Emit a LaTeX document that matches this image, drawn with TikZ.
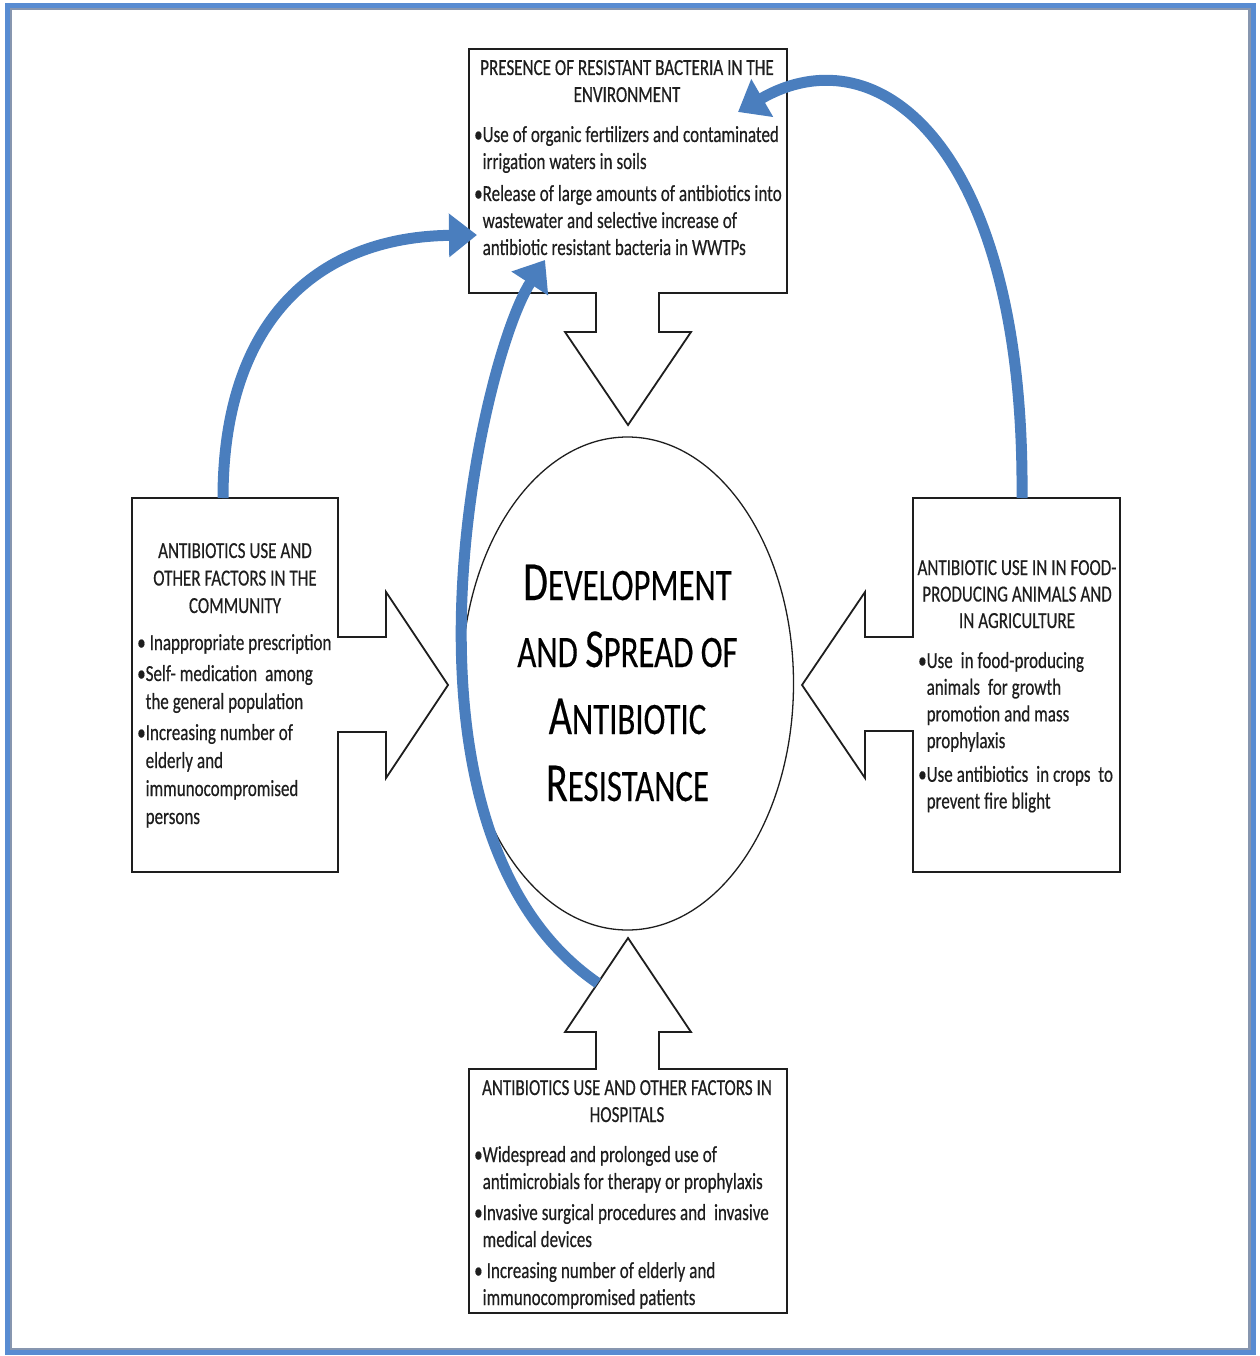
\documentclass[tikz,border=0pt]{standalone}
\usepackage{fontspec}
\setmainfont[FakeStretch=0.74,FakeBold=0.4]{Carlito}
\newfontfamily\centerfont[FakeStretch=0.73,FakeBold=0.3]{Carlito}
\usetikzlibrary{arrows.meta,shapes.geometric,calc}
\definecolor{arcblue}{RGB}{74,126,190}
\definecolor{frameblue}{RGB}{88,140,210}
\definecolor{frameshade}{RGB}{135,150,175}
\definecolor{ink}{RGB}{30,30,30}
\newcommand\capsc[2]{{\fontsize{55}{67}\selectfont #1}{\fontsize{45}{67}\selectfont #2}}
\newcommand\hg{\phantom{•}}
\newcommand\tf[2]{\fontsize{#1}{#2}\selectfont\fontdimen2\font=4pt\fontdimen3\font=0.5pt\fontdimen4\font=0.5pt\relax}
\begin{document}
\begin{tikzpicture}[x=1pt,y=-1pt,
  blockline/.style={draw=ink,line width=1.8pt,fill=white,line join=miter},
  boxarea/.style={inner sep=0pt,outer sep=0pt,draw=none,rectangle},
  titletext/.style={text width=330pt,align=flush center,anchor=base,inner sep=0pt,text=ink},
  bodytext/.style={text width=330pt,align=flush left,anchor=base west,inner sep=0pt,text=ink},
  arc/.style={draw=arcblue,line width=11pt,-{Triangle[width=42pt,length=28pt]}}]
\useasboundingbox (0,0) rectangle (1259,1356);
% frame
\draw[frameblue,line width=4.5pt] (7.5,5.5) rectangle (1253.5,1352.5);
\draw[frameshade,line width=2.5pt] (11,9) rectangle (1249.5,1349);
% outlines: boxes with block arrows
\draw[blockline] (469,49) -- (787,49) -- (787,293) -- (659,293) -- (659,332) -- (691,332) -- (628,425) -- (565,332) -- (596,332) -- (596,293) -- (469,293) -- cycle;
\draw[blockline] (132,498) -- (338,498) -- (338,637) -- (386,637) -- (386,592) -- (448,685) -- (386,778) -- (386,732) -- (338,732) -- (338,872) -- (132,872) -- cycle;
\draw[blockline] (913,498) -- (1120,498) -- (1120,872) -- (913,872) -- (913,731) -- (865,731) -- (865,778) -- (802,685) -- (865,592) -- (865,637) -- (913,637) -- cycle;
\draw[blockline] (469,1069) -- (596,1069) -- (596,1032) -- (565,1032) -- (628,938) -- (691,1032) -- (659,1032) -- (659,1069) -- (787,1069) -- (787,1313) -- (469,1313) -- cycle;
% named areas
\node[boxarea,minimum width=318pt,minimum height=244pt] (env) at (628,171) {};
\node[boxarea,minimum width=206pt,minimum height=374pt] (comm) at (235,685) {};
\node[boxarea,minimum width=207pt,minimum height=374pt] (agri) at (1016.5,685) {};
\node[boxarea,minimum width=318pt,minimum height=244pt] (hosp) at (628,1191) {};
\coordinate (hosptip) at (628,938);
\coordinate (hospbl) at (565,1032);
% central ellipse
\node[ellipse,draw=ink,line width=1.3pt,minimum width=332pt,minimum height=493pt,inner sep=0pt] (core) at (627.5,683.5) {};
\node[text width=330pt,align=flush center,anchor=base,inner sep=0pt,text=black,font=\centerfont\fontsize{45}{67}\selectfont] (coretext) at (627.5,600)
 {\capsc{D}{EVELOPMENT}\\\capsc{}{AND }\capsc{S}{PREAD OF}\\\capsc{A}{NTIBIOTIC}\\\capsc{R}{ESISTANCE}};
% top box texts
\node[titletext,font=\tf{23}{27}] (envT) at (627,75) {PRESENCE OF RESISTANT BACTERIA IN THE\\ENVIRONMENT};
\node[bodytext,font=\tf{23}{27}] (envB) at (474,142)
 {•Use of organic fertilizers and contaminated\\\hg irrigation waters in soils\\[5pt]•Release of large amounts of antibiotics into\\\hg wastewater and selective increase of\\\hg antibiotic resistant bacteria in WWTPs};
% left box texts
\node[titletext,font=\tf{23}{27.5}] (commT) at (235,558) {ANTIBIOTICS USE AND\\OTHER FACTORS IN THE\\COMMUNITY};
\node[bodytext,font=\tf{23}{28}] (commB) at (137,650)
 {• Inappropriate prescription\\[3pt]•Self- medication\ \ among\\\hg the general population\\[3pt]•Increasing number of\\\hg elderly and\\\hg immunocompromised\\\hg persons};
% right box texts
\node[titletext,font=\tf{23}{26.5}] (agriT) at (1017,575) {ANTIBIOTIC USE IN IN FOOD-\\PRODUCING ANIMALS AND\\IN AGRICULTURE};
\node[bodytext,font=\tf{23}{26.7}] (agriB) at (918,668)
 {•Use\ \ in food-producing\\\hg animals\ \ for growth\\\hg promotion and mass\\\hg prophylaxis\\[7pt]•Use antibiotics\ \ in crops\ \ to\\\hg prevent fire blight};
% bottom box texts
\node[titletext,font=\tf{23}{27}] (hospT) at (627,1095) {ANTIBIOTICS USE AND OTHER FACTORS IN\\HOSPITALS};
\node[bodytext,font=\tf{23}{27}] (hospB) at (474,1162)
 {•Widespread and prolonged use of\\\hg antimicrobials for therapy or prophylaxis\\[4pt]•Invasive surgical procedures and\ \ invasive\\\hg medical devices\\[4pt]• Increasing number of elderly and\\\hg immunocompromised patients};
% blue connectors
\draw[arc] ([xshift=-12pt]comm.north) .. controls (223,326) and (312,237) .. ([xshift=8pt,yshift=-64pt]env.west);
\draw[arc] ([xshift=5.5pt]agri.north) .. controls (1025,150) and (880,30) .. ([xshift=-49pt,yshift=-63pt]env.north east);
\draw[arc] ($(hosptip)!0.48!(hospbl)$) .. controls (375,830) and (480,360) .. ([xshift=76pt,yshift=33pt]env.south west);
\end{tikzpicture}
\end{document}
